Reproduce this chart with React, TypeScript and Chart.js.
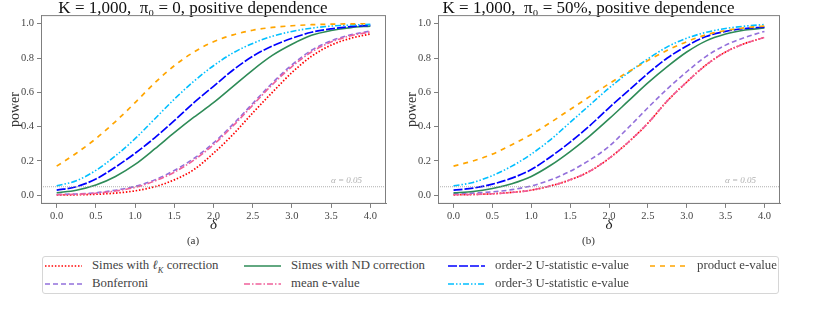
import React, { useEffect, useRef } from "react";
import { Chart, registerables } from "chart.js";
Chart.register(...registerables);

// ---------- data ----------
const DELTA = [0, 0.25, 0.5, 0.75, 1, 1.25, 1.5, 1.75, 2, 2.25, 2.5, 2.75, 3, 3.25, 3.5, 3.75, 4];
const X_TICKS = [0, 0.5, 1, 1.5, 2, 2.5, 3, 3.5, 4];
const Y_TICKS = [0, 0.2, 0.4, 0.6, 0.8, 1.0];
const ALPHA = 0.05;

const SERIES_NAMES = [
  "Simes with \u2113K correction",
  "Bonferroni",
  "Simes with ND correction",
  "mean e-value",
  "order-2 U-statistic e-value",
  "order-3 U-statistic e-value",
  "product e-value",
];

// (a) K = 1,000, pi0 = 0
const A_SIMES_LK = [0.002, 0.003, 0.006, 0.013, 0.026, 0.05, 0.09, 0.15, 0.245, 0.355, 0.48, 0.6, 0.715, 0.81, 0.875, 0.915, 0.94];
const A_BONF = [0.005, 0.008, 0.015, 0.03, 0.052, 0.09, 0.145, 0.215, 0.305, 0.415, 0.535, 0.655, 0.76, 0.845, 0.9, 0.935, 0.957];
const A_SIMES_ND = [0.015, 0.03, 0.06, 0.11, 0.18, 0.27, 0.365, 0.455, 0.54, 0.635, 0.73, 0.815, 0.88, 0.932, 0.96, 0.977, 0.986];
const A_MEAN = [0.003, 0.006, 0.012, 0.025, 0.046, 0.083, 0.135, 0.205, 0.295, 0.405, 0.525, 0.645, 0.75, 0.835, 0.893, 0.93, 0.952];
const A_U2 = [0.03, 0.05, 0.095, 0.165, 0.245, 0.335, 0.435, 0.54, 0.635, 0.73, 0.81, 0.87, 0.915, 0.95, 0.97, 0.983, 0.99];
const A_U3 = [0.055, 0.085, 0.145, 0.23, 0.33, 0.445, 0.56, 0.665, 0.755, 0.83, 0.885, 0.927, 0.955, 0.974, 0.986, 0.992, 0.996];
const A_PROD = [0.17, 0.245, 0.33, 0.43, 0.54, 0.655, 0.755, 0.835, 0.895, 0.935, 0.962, 0.978, 0.988, 0.994, 0.997, 0.999, 1.0];

// (b) K = 1,000, pi0 = 50%
const B_SIMES_LK = [0.003, 0.005, 0.009, 0.017, 0.03, 0.055, 0.09, 0.14, 0.215, 0.31, 0.42, 0.55, 0.66, 0.76, 0.835, 0.885, 0.92];
const B_BONF = [0.01, 0.013, 0.02, 0.033, 0.055, 0.09, 0.14, 0.205, 0.285, 0.395, 0.51, 0.62, 0.72, 0.81, 0.875, 0.92, 0.955];
const B_SIMES_ND = [0.014, 0.022, 0.04, 0.068, 0.11, 0.175, 0.255, 0.345, 0.445, 0.55, 0.655, 0.75, 0.835, 0.9, 0.94, 0.963, 0.975];
const B_MEAN = [0.003, 0.005, 0.009, 0.017, 0.03, 0.055, 0.09, 0.14, 0.215, 0.31, 0.42, 0.55, 0.66, 0.76, 0.835, 0.885, 0.92];
const B_U2 = [0.03, 0.042, 0.065, 0.1, 0.15, 0.225, 0.31, 0.405, 0.51, 0.61, 0.71, 0.8, 0.87, 0.925, 0.955, 0.972, 0.98];
const B_U3 = [0.055, 0.075, 0.115, 0.17, 0.24, 0.325, 0.425, 0.525, 0.625, 0.715, 0.795, 0.865, 0.915, 0.95, 0.972, 0.986, 0.995];
const B_PROD = [0.17, 0.2, 0.24, 0.295, 0.355, 0.425, 0.5, 0.575, 0.65, 0.72, 0.785, 0.845, 0.895, 0.935, 0.96, 0.976, 0.986];

// ---------- styles ----------
const FONT = "'Liberation Serif', 'Times New Roman', serif";
const STYLES = [
  { color: "#ff0000", dash: [1.5, 1.8], width: 1.7 },
  { color: "#9370db", dash: [5, 3], width: 1.6 },
  { color: "#2e8b57", dash: [], width: 1.6 },
  { color: "#f0609a", dash: [6, 2, 1.5, 2], width: 1.6 },
  { color: "#0000ff", dash: [9, 2], width: 1.7 },
  { color: "#00bfff", dash: [6, 2, 1.5, 2, 1.5, 2], width: 1.6 },
  { color: "#ffa500", dash: [5, 5], width: 1.7 },
];
// legend placement order (4 columns x 2 rows, as in the figure)
const LEGEND_LAYOUT = [
  { idx: 0, x: 45, y: 266 },
  { idx: 1, x: 45, y: 284 },
  { idx: 2, x: 244, y: 266 },
  { idx: 3, x: 244, y: 284 },
  { idx: 4, x: 448, y: 266 },
  { idx: 5, x: 448, y: 284 },
  { idx: 6, x: 650, y: 266 },
];

const framePlugin = {
  id: "frame",
  afterDraw(chart: any) {
    const { ctx, chartArea } = chart;
    const yS = chart.scales.y;
    const yA = yS.getPixelForValue(ALPHA);
    ctx.save();
    // alpha reference line
    ctx.strokeStyle = "#9a9a9a";
    ctx.lineWidth = 0.8;
    ctx.setLineDash([1, 1]);
    ctx.beginPath();
    ctx.moveTo(chartArea.left, yA);
    ctx.lineTo(chartArea.right, yA);
    ctx.stroke();
    ctx.setLineDash([]);
    ctx.fillStyle = "#b0b0b0";
    ctx.font = `italic 9px ${FONT}`;
    ctx.textAlign = "right";
    ctx.textBaseline = "bottom";
    ctx.fillText("\u03b1 = 0.05", chartArea.right - 24, yA - 1.5);
    // frame
    ctx.strokeStyle = "#7f7f7f";
    ctx.lineWidth = 1;
    ctx.strokeRect(chartArea.left + 0.5, chartArea.top + 0.5, chartArea.right - chartArea.left - 1, chartArea.bottom - chartArea.top - 1);
    ctx.restore();
  },
};

function makeConfig(series: number[][], title: string, sub: string) {
  const n = series.length;
  return {
    type: "line" as const,
    data: {
      datasets: series.map((vals, i) => ({
        label: SERIES_NAMES[i],
        data: DELTA.map((d, k) => ({ x: d, y: vals[k] })),
        borderColor: STYLES[i].color,
        backgroundColor: STYLES[i].color,
        borderDash: STYLES[i].dash,
        borderWidth: STYLES[i].width,
        pointRadius: 0,
        fill: false,
        cubicInterpolationMode: "monotone" as const,
        order: n - i,
      })),
    },
    options: {
      animation: false as const,
      responsive: false,
      devicePixelRatio: 1,
      layout: { padding: { left: 0, right: 14, top: 1, bottom: 0 } },
      plugins: {
        legend: { display: false },
        tooltip: { enabled: false },
        title: {
          display: true,
          text: title,
          color: "#111",
          font: { family: FONT, size: 17, weight: "normal" as const, lineHeight: 0.83 },
          padding: { top: 0, bottom: 0 },
        },
        subtitle: {
          display: true,
          text: sub,
          position: "bottom" as const,
          color: "#333",
          font: { family: FONT, size: 11, lineHeight: 1.1 },
          padding: { top: 0, bottom: 5 },
        },
      },
      scales: {
        x: {
          type: "linear" as const,
          min: -0.2,
          max: 4.2,
          afterBuildTicks: (s: any) => {
            s.ticks = X_TICKS.map((v) => ({ value: v }));
          },
          afterFit: (s: any) => {
            s.height = 31;
          },
          ticks: {
            callback: (v: any) => Number(v).toFixed(1),
            color: "#444",
            font: { family: FONT, size: 10.5 },
            padding: 2,
            maxRotation: 0,
            autoSkip: false,
          },
          grid: { display: true, drawOnChartArea: false, drawTicks: true, tickLength: 4, color: "#7f7f7f" },
          border: { display: true, color: "#7f7f7f" },
          title: {
            display: true,
            text: "\u03b4",
            color: "#222",
            font: { family: FONT, size: 15, style: "italic" as const, lineHeight: 1.1 },
            padding: { top: 0, bottom: 2 },
          },
        },
        y: {
          type: "linear" as const,
          min: -0.05,
          max: 1.05,
          afterBuildTicks: (s: any) => {
            s.ticks = Y_TICKS.map((v) => ({ value: v }));
          },
          afterFit: (s: any) => {
            s.width = 41;
          },
          ticks: {
            callback: (v: any) => Number(v).toFixed(1),
            color: "#444",
            font: { family: FONT, size: 10.5 },
            padding: 3,
            autoSkip: false,
          },
          grid: { display: true, drawOnChartArea: false, drawTicks: true, tickLength: 4, color: "#7f7f7f" },
          border: { display: true, color: "#7f7f7f" },
          title: {
            display: true,
            text: "power",
            color: "#333",
            font: { family: FONT, size: 14, lineHeight: 1.1 },
            padding: { top: 8, bottom: 0 },
          },
        },
      },
    },
    plugins: [framePlugin],
  };
}

function Panel(props: { left: number; width: number; series: number[][]; title: string; sub: string }) {
  const ref = useRef<HTMLCanvasElement | null>(null);
  useEffect(() => {
    if (!ref.current) return;
    const chart = new Chart(ref.current, makeConfig(props.series, props.title, props.sub) as any);
    return () => chart.destroy();
  }, []);
  return (
    <canvas
      ref={ref}
      width={props.width}
      height={252}
      style={{ position: "absolute", left: props.left, top: 0, width: props.width, height: 252 }}
    />
  );
}

function LegendSample({ idx }: { idx: number }) {
  const st = STYLES[idx];
  return (
    <svg width={37} height={8} style={{ position: "absolute", left: 0, top: -4 }}>
      <line
        x1={0}
        y1={4}
        x2={37}
        y2={4}
        stroke={st.color}
        strokeWidth={st.width}
        strokeDasharray={st.dash.length ? st.dash.join(" ") : undefined}
      />
    </svg>
  );
}

function Legend() {
  return (
    <div>
      <div
        style={{
          position: "absolute",
          left: 42,
          top: 256,
          width: 737,
          height: 38,
          border: "1px solid #d6d6d6",
          borderRadius: 3,
          boxSizing: "border-box",
        }}
      />
      {LEGEND_LAYOUT.map((it) => (
        <div key={it.idx} style={{ position: "absolute", left: it.x, top: it.y, height: 0 }}>
          <LegendSample idx={it.idx} />
          <span
            style={{
              position: "absolute",
              left: 47,
              top: -8,
              whiteSpace: "nowrap",
              fontFamily: FONT,
              fontSize: 12.8,
              lineHeight: "15px",
              color: "#444",
            }}
          >
            {it.idx === 0 ? (
              <>
                Simes with <i>{"\u2113"}</i>
                <sub style={{ fontSize: 8.5, fontStyle: "italic", lineHeight: 0 }}>K</sub> correction
              </>
            ) : (
              SERIES_NAMES[it.idx]
            )}
          </span>
        </div>
      ))}
    </div>
  );
}

export default function App() {
  const seriesA = [A_SIMES_LK, A_BONF, A_SIMES_ND, A_MEAN, A_U2, A_U3, A_PROD];
  const seriesB = [B_SIMES_LK, B_BONF, B_SIMES_ND, B_MEAN, B_U2, B_U3, B_PROD];
  return (
    <div style={{ position: "absolute", left: 0, top: 0, width: 822, height: 313, background: "#fff", overflow: "hidden" }}>
      <Panel left={0} width={400} series={seriesA} title={"K = 1,000,  \u03c0\u2080 = 0, positive dependence"} sub="(a)" />
      <Panel left={397} width={397} series={seriesB} title={"K = 1,000,  \u03c0\u2080 = 50%, positive dependence"} sub="(b)" />
      <Legend />
    </div>
  );
}
